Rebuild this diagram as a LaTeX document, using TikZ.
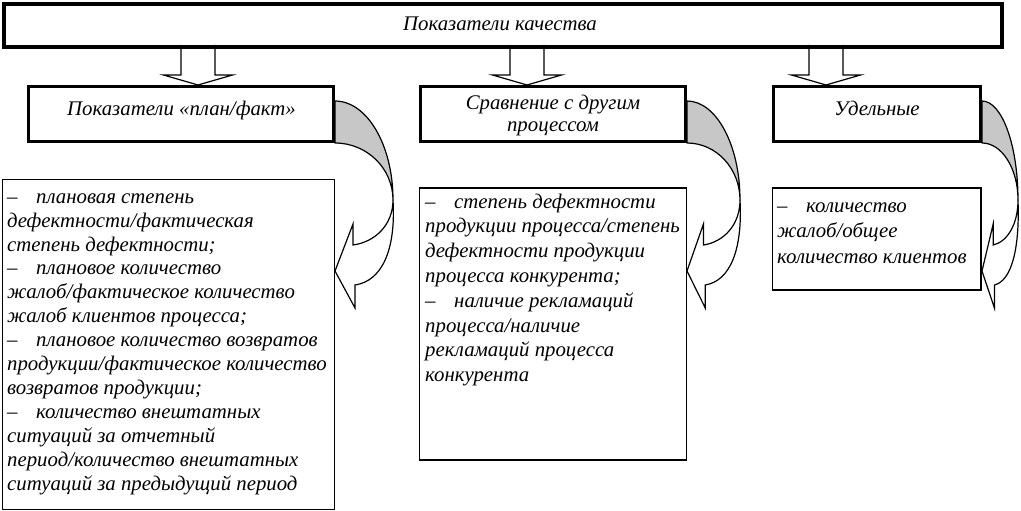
\documentclass[tikz,border=0pt]{standalone}
\usepackage{fontspec}
\setmainfont{Liberation Serif}
\newcommand\itf[1]{\itshape\fontsize{20.8pt}{#1}\selectfont}
\newcommand\dsh{\makebox[29pt][l]{–}}
\tikzset{
  topbox/.style={draw, line width=4pt, inner sep=0, outer sep=0, anchor=north west},
  midbox/.style={draw, line width=3pt, inner sep=0, outer sep=0, anchor=north west},
  lowbox/.style={draw, line width=1.2pt, inner sep=0, outer sep=0, anchor=north west},
  listtxt/.style={inner sep=0, align=left, anchor=north west},
  ctxt/.style={inner sep=0, align=center},
  greyband/.style={fill=black!22, draw=black, line width=1.2pt, line join=round},
  whitearr/.style={fill=white, draw=black, line width=1.2pt, line join=miter},
  downarr/.style={fill=white, draw=black, line width=1.2pt, line join=miter}
}
\newcommand\curvarrow[2]{%
\begin{scope}[shift={(#1,0)}, xscale=#2/58]
\path[greyband] (0,101) .. controls (32,101) and (58,145) .. (58,200) .. controls (58,168.5) and (32,143) .. (0,143) -- cycle;
\path[whitearr] (58,200) .. controls (58,225) and (40,242) .. (18,245) -- (18,224) -- (0,271) -- (20,308) -- (20,285) .. controls (47,281) and (61,250) .. (58,200) -- cycle;
\end{scope}}
\begin{document}
\begin{tikzpicture}[x=1pt,y=-1pt]
\useasboundingbox[fill=white] (0,0) rectangle (1021,511);
% down arrows (drawn first, title box covers their top)
\coordinate (a1) at (198,85);
\coordinate (a2) at (527,85);
\coordinate (a3) at (826,85);
\foreach \a in {a1,a2,a3}{
  \path[downarr] ([xshift=-17pt,yshift=40pt]\a) -- ([xshift=-17pt,yshift=10pt]\a) -- ([xshift=-34.5pt,yshift=10pt]\a) -- (\a) -- ([xshift=34.5pt,yshift=10pt]\a) -- ([xshift=17pt,yshift=10pt]\a) -- ([xshift=17pt,yshift=40pt]\a);
}
% title
\node[topbox, minimum width=998pt, minimum height=43pt] (top) at (4,4) {};
\node[ctxt, anchor=base, font=\itf{23.9pt}] (toptxt) at (500,31) {Показатели качества};
% curved arrows
\curvarrow{335}{58}
\curvarrow{687}{53}
\curvarrow{982}{36}
% middle boxes
\node[midbox, minimum width=305pt, minimum height=55pt] (b1) at (28.5,86.5) {};
\node[midbox, minimum width=265pt, minimum height=55pt] (b2) at (420.5,86.5) {};
\node[midbox, minimum width=207pt, minimum height=55pt] (b3) at (773.5,86.5) {};
\node[ctxt, anchor=base, font=\itf{23.9pt}] (b1t) at (181.5,115) {Показатели «план/факт»};
\node[ctxt, anchor=north, font=\itf{22pt}] (b2t) at (553,94.1) {\strut Сравнение с другим\\процессом};
\node[ctxt, anchor=base, font=\itf{23.9pt}] (b3t) at (877,115) {Удельные};
% lower boxes
\node[lowbox, minimum width=332pt, minimum height=330pt] (l1) at (2.5,179.5) {};
\node[lowbox, minimum width=267pt, minimum height=272pt] (l2) at (419.5,188) {};
\node[lowbox, minimum width=208.5pt, minimum height=102pt] (l3) at (772.5,188) {};
\node[listtxt, font=\itf{23.9pt}] (l1t) at (7,186.3) {\strut\dsh плановая степень\\
дефектности/фактическая\\
степень дефектности;\\
\dsh плановое количество\\
жалоб/фактическое количество\\
жалоб клиентов процесса;\\
\dsh плановое количество возвратов\\
продукции/фактическое количество\\
возвратов продукции;\\
\dsh количество внештатных\\
ситуаций за отчетный\\
период/количество внештатных\\
ситуаций за предыдущий период};
\node[listtxt, font=\itf{24.8pt}] (l2t) at (425,190.6) {\strut\dsh степень дефектности\\
продукции процесса/степень\\
дефектности продукции\\
процесса конкурента;\\
\dsh наличие рекламаций\\
процесса/наличие\\
рекламаций процесса\\
конкурента};
\node[listtxt, font=\itf{25.5pt}] (l3t) at (777,194.2) {\strut\dsh количество\\
жалоб/общее\\
количество клиентов};
\end{tikzpicture}
\end{document}
